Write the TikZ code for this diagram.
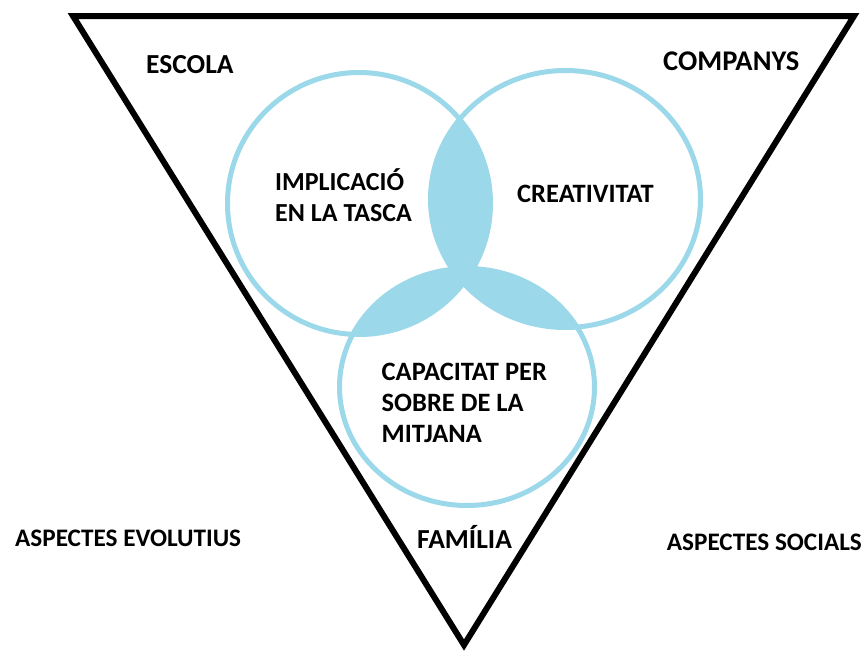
\documentclass[tikz,border=0pt]{standalone}
\usepackage{fontspec}
\setmainfont{Carlito}
\definecolor{ringblue}{RGB}{155,216,233}
\tikzset{
  lbl/.style={anchor=base west, inner sep=0pt, font=\bfseries\fontsize{#1}{31}\selectfont, text=black, align=left},
  lbl/.default=25.2,
  ring/.style={draw=ringblue, line width=5pt},
  tri/.style={draw=black, line width=6pt, line join=miter}
}
\begin{document}
\begin{tikzpicture}[x=1pt,y=-1pt]
\useasboundingbox (0,0) rectangle (868,651);
% triangle
\coordinate (tl) at (73,16);
\coordinate (tr) at (854,16);
\coordinate (bt) at (464,645);
\draw[tri] (tl) -- (tr) -- (bt) -- cycle;
% overlaps
\def\cleft{(359,203.5) ellipse [x radius=131.5, y radius=131]}
\def\cright{(565.5,199) ellipse [x radius=135, y radius=128.5]}
\def\cbottom{(467,387) ellipse [x radius=127.5, y radius=118.5]}
\begin{scope}
  \clip \cleft;
  \fill[ringblue] \cright;
  \fill[ringblue] \cbottom;
\end{scope}
\begin{scope}
  \clip \cright;
  \fill[ringblue] \cbottom;
\end{scope}
\draw[ring] \cleft;
\draw[ring] \cright;
\draw[ring] \cbottom;
% labels (base anchor = baseline of last line)
\node[lbl=27.5] (escola) at (146,73) {ESCOLA};
\node[lbl=28.5] (companys) at (663,70) {COMPANYS};
\node[lbl=26] (impl) at (275,221.7) {IMPLICACIÓ\\EN LA TASCA};
\node[lbl=26.5] (creat) at (517,202.7) {CREATIVITAT};
\node[lbl=26.5] (capac) at (381.5,442.7) {CAPACITAT PER\\SOBRE DE LA\\MITJANA};
\node[lbl] (evol) at (15,546.7) {ASPECTES EVOLUTIUS};
\node[lbl=27.5] (familia) at (417,548) {FAMÍLIA};
\node[lbl] (socials) at (666.7,550) {ASPECTES SOCIALS};
\end{tikzpicture}
\end{document}
